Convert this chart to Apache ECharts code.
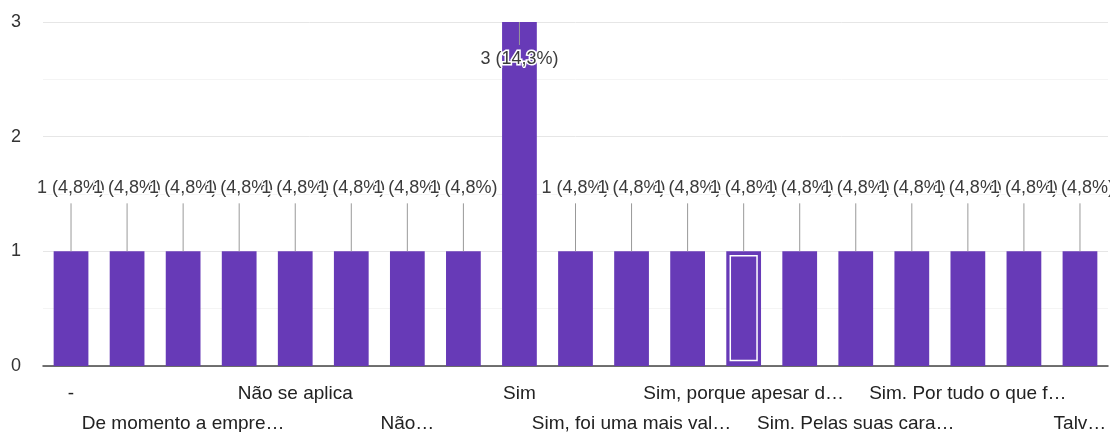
<!DOCTYPE html>
<html>
<head>
<meta charset="utf-8">
<script src="https://cdn.jsdelivr.net/npm/echarts@6/dist/echarts.min.js"></script>
<style>
  html, body { margin: 0; padding: 0; background: #fff; }
  #chart { width: 1110px; height: 432px; }
</style>
</head>
<body>
<div id="chart"></div>
<script>
// respostas (texto como aparece no eixo; as ocultas não têm rótulo visível)
const categorias = [
  "-", "Acho que sim", "De momento a empre…", "Não", "Não se aplica",
  "Não sei", "Não…", "Penso que sim", "Sim", "Sim, bastante",
  "Sim, foi uma mais val…", "Sim, muito", "Sim, porque apesar d…", "Sim.",
  "Sim. Pelas suas cara…", "Sim. Permitiu…", "Sim. Por tudo o que f…",
  "Sim. Sem dúvida", "Talv…"
];
const respostas = [1, 1, 1, 1, 1, 1, 1, 1, 3, 1, 1, 1, 1, 1, 1, 1, 1, 1, 1];
const marcado = 12; // barra com contorno interno (selecionada)
const yTicks = [0, 1, 2, 3];

const roxo = "#673ab7";
const fonte = "Arial, 'Liberation Sans', sans-serif";
const total = respostas.reduce((a, b) => a + b, 0);
const yMax = yTicks[yTicks.length - 1];

const chart = echarts.init(document.getElementById("chart"));

function pct(v) {
  return (v / total * 100).toFixed(1).replace(".", ",") + "%";
}

// rótulos do eixo x em duas linhas alternadas
function eixoX(resto, margem, comLinha) {
  return {
    type: "category",
    data: categorias,
    position: "bottom",
    axisTick: { show: false },
    axisLine: { show: comLinha, lineStyle: { color: "#444", width: 1.5 } },
    splitLine: { show: false },
    axisLabel: {
      interval: (i) => i % 4 === resto,
      margin: margem,
      fontSize: 19,
      color: "#222",
      fontFamily: fonte,
      hideOverlap: false
    }
  };
}

const option = {
  animation: false,
  grid: { left: 43, right: 2, top: 22, bottom: 66, outerBoundsMode: "none", containLabel: false },
  xAxis: [eixoX(0, 18, true), eixoX(2, 48, false)],
  yAxis: {
    type: "value",
    min: 0,
    max: yMax,
    interval: 1,
    minorTick: { show: false, splitNumber: 2 },
    minorSplitLine: { show: true, lineStyle: { color: "#f4f4f4" } },
    splitLine: { lineStyle: { color: "#e6e6e6" } },
    axisLabel: { margin: 22, fontSize: 18, color: "#333", fontFamily: fonte }
  },
  series: [
    {
      type: "bar",
      data: respostas,
      barWidth: "62%",
      itemStyle: { color: roxo },
      z: 2,
      label: {
        show: true,
        fontSize: 18,
        fontFamily: fonte,
        color: "#3c3c3c",
        textBorderColor: "#fff",
        textBorderWidth: 3,
        formatter: (p) => p.value + " (" + pct(p.value) + ")",
        position: "top",
        distance: 54
      },
      labelLayout: (p) => {
        // a barra que chega ao topo leva o rótulo para dentro
        if (respostas[p.dataIndex] >= yMax) {
          return { dy: 36 + 54 + 10 };
        }
        return {};
      }
    },
    {
      // hastes entre rótulo e barra
      type: "custom",
      data: respostas.map((v, i) => [i, v]),
      z: 3,
      silent: true,
      renderItem: (params, api) => {
        const p = api.coord([api.value(0), api.value(1)]);
        const dentro = api.value(1) >= yMax;
        const y2 = dentro ? p[1] + 23 : p[1] - 48;
        return {
          type: "line",
          shape: { x1: p[0], y1: p[1], x2: p[0], y2: y2 },
          style: { stroke: "#999", lineWidth: 1 }
        };
      }
    },
    {
      // contorno branco interno da barra selecionada
      type: "custom",
      data: [[marcado, respostas[marcado]]],
      z: 4,
      silent: true,
      renderItem: (params, api) => {
        const topo = api.coord([api.value(0), api.value(1)]);
        const base = api.coord([api.value(0), 0]);
        const w = api.size([1, 0])[0] * 0.62;
        return {
          type: "rect",
          shape: {
            x: topo[0] - w / 2 + 4,
            y: topo[1] + 4.5,
            width: w - 8,
            height: base[1] - topo[1] - 10
          },
          style: { fill: "none", stroke: "#fff", lineWidth: 1.5 }
        };
      }
    }
  ]
};

chart.setOption(option);
</script>
</body>
</html>
